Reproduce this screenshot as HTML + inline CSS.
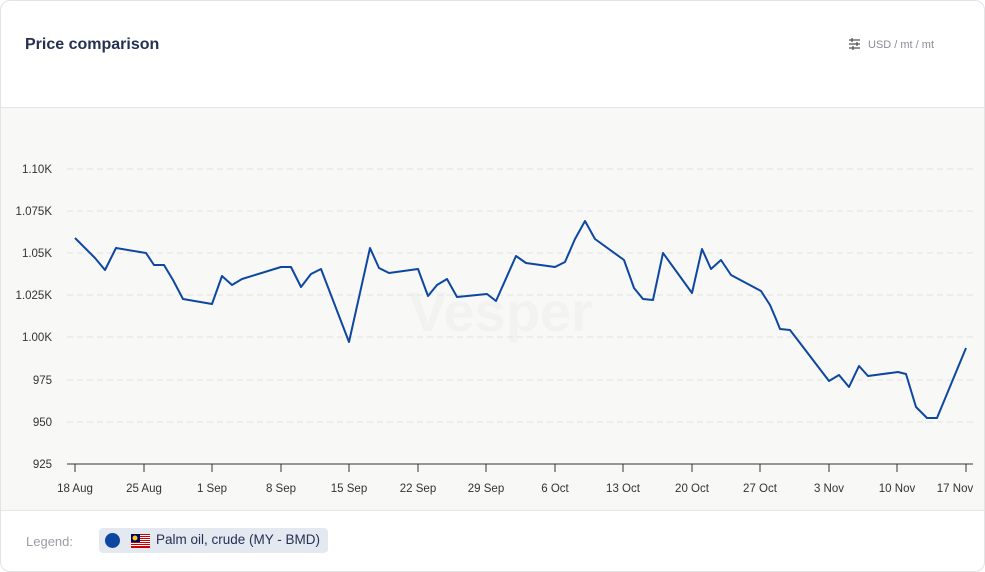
<!DOCTYPE html>
<html><head><style>
body{margin:0;background:#fff;font-family:"Liberation Sans",sans-serif;}
.card{position:absolute;left:0;top:0;width:983px;height:570px;border:1px solid #e3e3e6;border-radius:10px;overflow:hidden;background:#fff}
</style></head><body>
<div class="card">
<div style="position:absolute;left:24px;top:35px;font-size:16px;font-weight:bold;color:#263050">Price comparison</div>
<div style="position:absolute;left:847px;top:37px;font-size:11px;color:#8a8d98">
<svg width="13" height="12" style="vertical-align:-2px;margin-right:7px" viewBox="0 0 13 12"><g stroke="#555" stroke-width="1.3"><line x1="1" y1="2" x2="12" y2="2"/><line x1="1" y1="6" x2="12" y2="6"/><line x1="1" y1="10" x2="12" y2="10"/><line x1="4" y1="0" x2="4" y2="4"/><line x1="9" y1="4" x2="9" y2="8"/><line x1="5" y1="8" x2="5" y2="12"/></g></svg>USD / mt / mt</div>
<div style="position:absolute;left:0;top:106px;width:983px;height:402px;background:#f8f8f7;border-top:1px solid #e6e6e8;border-bottom:1px solid #e6e6e8"></div>
<svg style="position:absolute;left:0;top:0" width="985" height="572">
<text x="500" y="330" font-size="56" font-weight="bold" fill="#f2f2f1" text-anchor="middle">Vesper</text>
<g stroke="#e2e2e2" stroke-dasharray="6,4" stroke-width="1">
<line x1="66" y1="168" x2="972" y2="168"/><line x1="66" y1="210" x2="972" y2="210"/><line x1="66" y1="252" x2="972" y2="252"/><line x1="66" y1="294" x2="972" y2="294"/><line x1="66" y1="336" x2="972" y2="336"/><line x1="66" y1="379" x2="972" y2="379"/><line x1="66" y1="421" x2="972" y2="421"/>
</g>
<g font-size="11.5" fill="#333" text-anchor="end">
<text x="51" y="172">1.10K</text><text x="51" y="214">1.075K</text><text x="51" y="256">1.05K</text><text x="51" y="298">1.025K</text><text x="51" y="340">1.00K</text><text x="51" y="383">975</text><text x="51" y="425">950</text><text x="51" y="467">925</text>
</g>
<line x1="66" y1="463" x2="972" y2="463" stroke="#333"/>
<g stroke="#333">
<line x1="74" y1="463" x2="74" y2="471"/><line x1="143" y1="463" x2="143" y2="471"/><line x1="211" y1="463" x2="211" y2="471"/><line x1="280" y1="463" x2="280" y2="471"/><line x1="348" y1="463" x2="348" y2="471"/><line x1="417" y1="463" x2="417" y2="471"/><line x1="485" y1="463" x2="485" y2="471"/><line x1="554" y1="463" x2="554" y2="471"/><line x1="622" y1="463" x2="622" y2="471"/><line x1="691" y1="463" x2="691" y2="471"/><line x1="759" y1="463" x2="759" y2="471"/><line x1="828" y1="463" x2="828" y2="471"/><line x1="896" y1="463" x2="896" y2="471"/><line x1="965" y1="463" x2="965" y2="471"/>
</g>
<g font-size="11.5" fill="#333" text-anchor="middle">
<text x="74" y="491">18 Aug</text><text x="143" y="491">25 Aug</text><text x="211" y="491">1 Sep</text><text x="280" y="491">8 Sep</text><text x="348" y="491">15 Sep</text><text x="417" y="491">22 Sep</text><text x="485" y="491">29 Sep</text><text x="554" y="491">6 Oct</text><text x="622" y="491">13 Oct</text><text x="691" y="491">20 Oct</text><text x="759" y="491">27 Oct</text><text x="828" y="491">3 Nov</text><text x="896" y="491">10 Nov</text><text x="954" y="491">17 Nov</text>
</g>
<polyline fill="none" stroke="#0d47a1" stroke-width="2" stroke-linejoin="round" points="74,237 94,257 104,269 115,247 145,252 153,264 163,264 172,279 182,298 211,303 221,275 231,284 241,278 280,266 290,266 300,286 310,273 320,268 348,341 369,247 378,267 388,272 417,268 427,295 436,284 446,278 456,296 486,293 495,300 515,255 525,262 554,266 564,261 574,238 584,220 594,238 623,259 633,287 642,298 652,299 662,252 691,292 701,248 710,268 720,259 730,274 760,290 769,304 775,318 779,328 789,329 799,342 828,380 838,374 848,386 858,365 867,375 897,371 905,373 915,406 926,417 936,417 965,347"/>
</svg>
<div style="position:absolute;left:25px;top:533px;font-size:13px;color:#9a9da6">Legend:</div>
<div style="position:absolute;left:98px;top:527px;width:229px;height:25px;background:#e4e8f0;border-radius:4px">
<div style="position:absolute;left:6px;top:5px;width:15px;height:15px;border-radius:50%;background:#0d47a1"></div>
<svg style="position:absolute;left:32px;top:6px" width="19" height="14" viewBox="0 0 19 14"><rect width="19" height="14" fill="#fff"/><g fill="#cc0001"><rect y="0" width="19" height="1"/><rect y="2" width="19" height="1"/><rect y="4" width="19" height="1"/><rect y="6" width="19" height="1"/><rect y="8" width="19" height="1"/><rect y="10" width="19" height="1"/><rect y="12" width="19" height="2"/></g><rect width="9" height="8" fill="#010066"/><circle cx="4" cy="4" r="2.5" fill="#fc0"/></svg>
<div style="position:absolute;left:57px;top:4px;font-size:13.5px;color:#263050">Palm oil, crude (MY - BMD)</div>
</div>
</div>
</body></html>
